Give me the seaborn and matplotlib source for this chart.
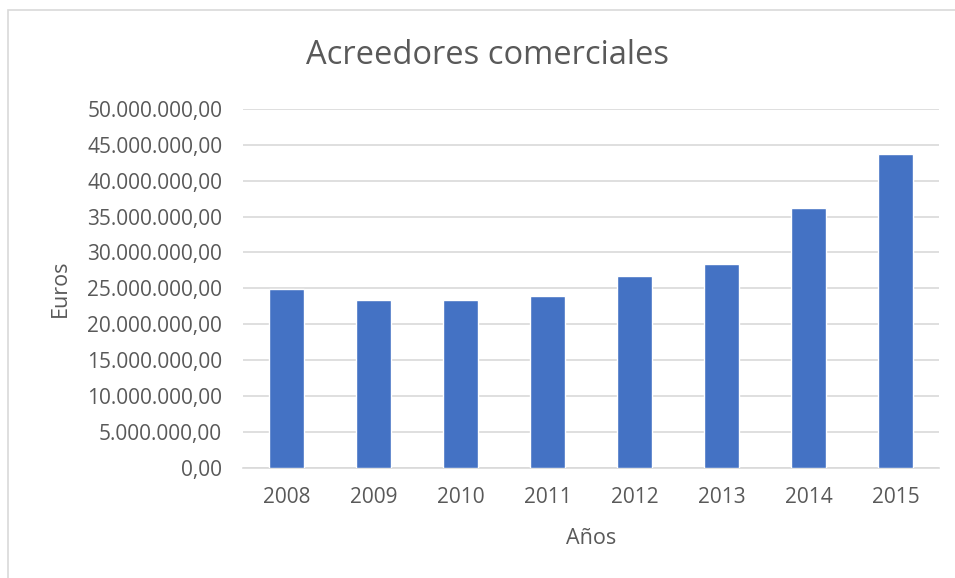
import matplotlib
matplotlib.use("Agg")
import matplotlib.pyplot as plt
import matplotlib.patches as mpatches
from matplotlib.ticker import FuncFormatter, MultipleLocator
import seaborn as sns
import pandas as pd

# ── data ───────────────────────────────────────────────────────────────────
years = ["2008", "2009", "2010", "2011", "2012", "2013", "2014", "2015"]
acreedores = [24_900_000, 23_330_000, 23_420_000, 23_980_000,
              26_760_000, 28_390_000, 36_200_000, 43_730_000]

df = pd.DataFrame({"Año": years, "Euros": acreedores})

BAR = "#4472C4"
GRID = "#D9D9D9"
TXT = "#595959"


def es_fmt(v, _pos):
    s = f"{v:,.2f}"
    return s.replace(",", "X").replace(".", ",").replace("X", ".")


sns.set_theme(style="white")
plt.rcParams["font.family"] = ["Open Sans", "DejaVu Sans"]

fig = plt.figure(figsize=(9.55, 5.78), dpi=100)
ax = fig.add_axes([243 / 955, 1 - 467.7 / 578, 696 / 955, (467.7 - 109) / 578])

sns.barplot(data=df, x="Año", y="Euros", color=BAR, width=0.4,
            saturation=1, ax=ax, zorder=3)

ax.set_ylim(0, 50_000_000)
ax.set_xlim(-0.5, len(years) - 0.5)
ax.yaxis.set_major_locator(MultipleLocator(5_000_000))
ax.yaxis.set_major_formatter(FuncFormatter(es_fmt))
ax.grid(axis="y", color=GRID, linewidth=1.2, zorder=0)
ax.set_axisbelow(True)

for side in ["top", "right", "left"]:
    ax.spines[side].set_visible(False)
ax.spines["bottom"].set_color(GRID)
ax.spines["bottom"].set_linewidth(1.2)

ax.tick_params(axis="y", length=0, pad=15, labelsize=15, labelcolor=TXT)
ax.tick_params(axis="x", length=0, pad=14, labelsize=15, labelcolor=TXT)

ax.set_xlabel("Años", fontsize=15.5, color=TXT, labelpad=14)
ax.set_ylabel("Euros", fontsize=15.5, color=TXT, labelpad=12)

fig.text(487.5 / 955, 1 - 55 / 578, "Acreedores comerciales",
         ha="center", va="center", fontsize=23.5, color=TXT)

# chart-area frame (only top and left edges fall inside the picture)
frame = mpatches.Rectangle((7.5 / 955, -0.2), 1.3, (1 - 9.5 / 578) + 0.2,
                           transform=fig.transFigure, fill=False,
                           edgecolor=GRID, linewidth=1.2)
fig.add_artist(frame)

fig.savefig("out.png", dpi=100)
plt.close(fig)
